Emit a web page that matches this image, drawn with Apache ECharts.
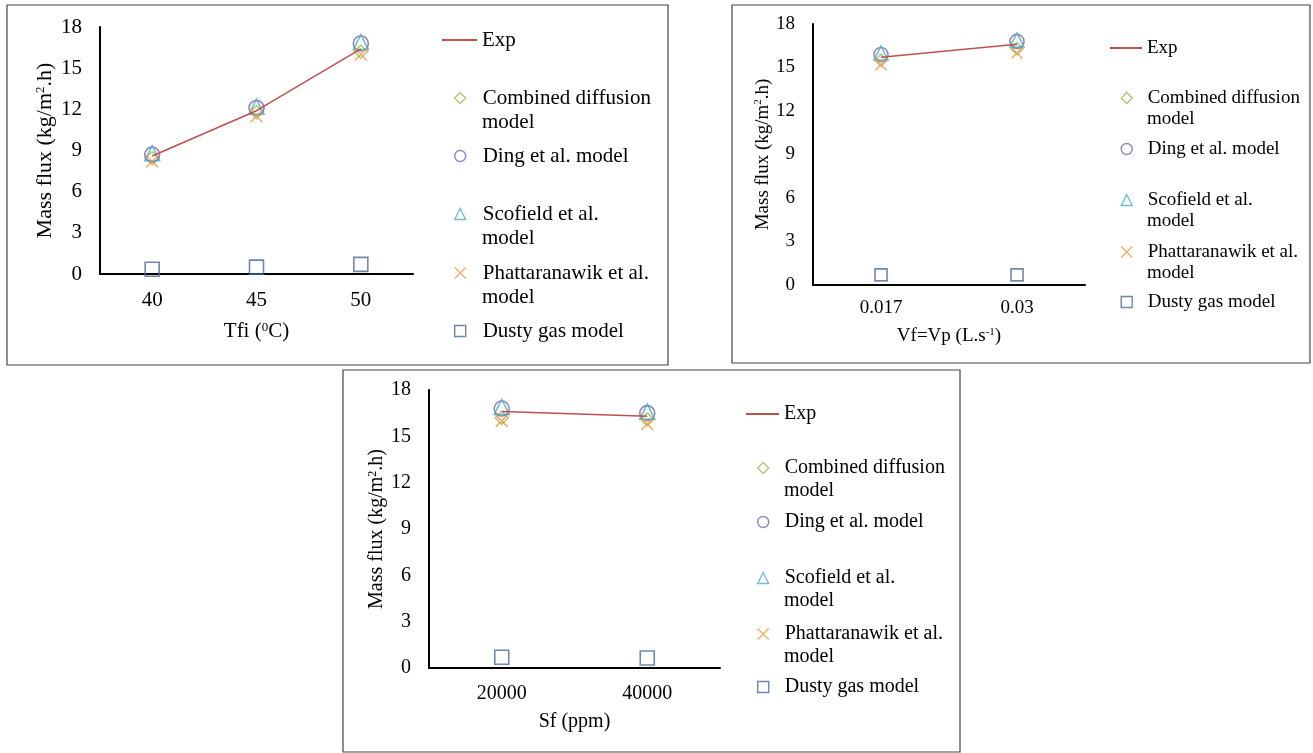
<!DOCTYPE html>
<html>
<head>
<meta charset="utf-8">
<script src="https://cdn.jsdelivr.net/npm/echarts@6/dist/echarts.min.js"></script>
<style>
  html, body { margin: 0; padding: 0; background: #fff; }
  #chart { width: 1313px; height: 753px; }
</style>
</head>
<body>
<div id="chart"></div>
<script>
// ---- data ----
const seriesNames = ['Exp', 'Combined diffusion model', 'Ding et al. model',
  'Scofield et al. model', 'Phattaranawik et al. model', 'Dusty gas model'];
const legendLines = {
  'Exp': ['Exp'],
  'Combined diffusion model': ['Combined diffusion', 'model'],
  'Ding et al. model': ['Ding et al. model'],
  'Scofield et al. model': ['Scofield et al.', 'model'],
  'Phattaranawik et al. model': ['Phattaranawik et al.', 'model'],
  'Dusty gas model': ['Dusty gas model']
};
const yTicks = [0, 3, 6, 9, 12, 15, 18];

// panel 1: Tfi
const tfiCats = ['40', '45', '50'];
const exp1 = [8.6, 11.9, 16.4];
const combined1 = [8.45, 11.8, 16.2];
const ding1 = [8.7, 12.1, 16.8];
const scofield1 = [8.8, 12.2, 16.9];
const phatt1 = [8.2, 11.5, 16.0];
const dusty1 = [0.35, 0.5, 0.7];

// panel 2: Vf=Vp
const vfCats = ['0.017', '0.03'];
const exp2 = [15.7, 16.6];
const combined2 = [15.5, 16.3];
const ding2 = [15.9, 16.8];
const scofield2 = [16.0, 16.9];
const phatt2 = [15.2, 16.0];
const dusty2 = [0.7, 0.7];

// panel 3: Sf
const sfCats = ['20000', '40000'];
const exp3 = [16.6, 16.3];
const combined3 = [16.2, 16.1];
const ding3 = [16.8, 16.5];
const scofield3 = [16.9, 16.6];
const phatt3 = [16.0, 15.8];
const dusty3 = [0.7, 0.65];

const FONT = '"Liberation Serif", "Times New Roman", serif';
const colors = ['#c0504d', '#9bbb59', '#8064a2', '#4bacc6', '#f79646', '#4a6a9a'];
const symbols = ['none', 'diamond', 'circle', 'triangle', 'path://M0,0L10,10M10,0L0,10', 'rect'];

const panels = [
  {
    cats: tfiCats, values: [exp1, combined1, ding1, scofield1, phatt1, dusty1],
    grid: { left: 100, top: 27, width: 313, height: 247 },
    font: 21, yFont: 22, xName: 'Tfi ({sup|0}C)', xGap: 47, yGap: 44, xMargin: 16,
    sizes: [0, 13, 15, 15, 12, 14],
    legendLeft: 442, legendW: 35,
    legendY: [40, 98, 156, 214, 273, 331], line2: 24,
    box: { x: 7, y: 5, width: 661, height: 360 }
  },
  {
    cats: vfCats, values: [exp2, combined2, ding2, scofield2, phatt2, dusty2],
    grid: { left: 813, top: 24, width: 272, height: 261 },
    font: 19, yFont: 19, xName: 'Vf=Vp (L.s{sup|-1})', xGap: 42, yGap: 39, xMargin: 14,
    sizes: [0, 12, 14, 14, 11, 12],
    legendLeft: 1110, legendW: 32,
    legendY: [48, 98, 149, 200, 252, 302], line2: 21,
    box: { x: 732, y: 5, width: 578, height: 358 }
  },
  {
    cats: sfCats, values: [exp3, combined3, ding3, scofield3, phatt3, dusty3],
    grid: { left: 429, top: 390, width: 291, height: 278 },
    font: 20, yFont: 20, xName: 'Sf (ppm)', xGap: 44, yGap: 42, xMargin: 16,
    sizes: [0, 13, 15, 15, 12, 14],
    legendLeft: 746, legendW: 33,
    legendY: [414, 468, 522, 578, 634, 687], line2: 23,
    box: { x: 343, y: 370, width: 617, height: 382 }
  }
];

const grids = [], xAxes = [], yAxes = [], series = [], legends = [], graphics = [];

panels.forEach((p, pi) => {
  grids.push(p.grid);
  const rich = { sup: { fontSize: Math.round(p.font * 0.6), fontFamily: FONT, color: '#000', verticalAlign: 'top' } };
  xAxes.push({
    type: 'category', gridIndex: pi, data: p.cats,
    axisLine: { lineStyle: { color: '#000', width: 2 } },
    axisTick: { show: false },
    axisLabel: { color: '#000', fontFamily: FONT, fontSize: p.font, margin: p.xMargin },
    name: p.xName, nameLocation: 'middle', nameGap: p.xGap,
    nameTextStyle: { color: '#000', fontFamily: FONT, fontSize: p.font, rich: rich }
  });
  yAxes.push({
    type: 'value', gridIndex: pi, min: 0, max: 18, interval: 3,
    axisLine: { show: true, lineStyle: { color: '#000', width: 2 } },
    axisTick: { show: false },
    splitLine: { show: false },
    axisLabel: { color: '#000', fontFamily: FONT, fontSize: p.font, margin: 18,
      formatter: v => yTicks.includes(v) ? String(v) : '' },
    name: 'Mass flux (kg/m{sup|2}.h)', nameLocation: 'middle', nameGap: p.yGap,
    nameTextStyle: { color: '#000', fontFamily: FONT, fontSize: p.yFont,
      rich: { sup: { fontSize: Math.round(p.yFont * 0.6), fontFamily: FONT, color: '#000', verticalAlign: 'top' } } }
  });

  seriesNames.forEach((name, si) => {
    if (si === 0) {
      series.push({
        name, type: 'line', xAxisIndex: pi, yAxisIndex: pi, data: p.values[si],
        symbol: 'none', z: 3,
        lineStyle: { color: colors[0], width: 1.5 },
        itemStyle: { color: colors[0] }
      });
    } else {
      series.push({
        name, type: 'scatter', xAxisIndex: pi, yAxisIndex: pi, data: p.values[si],
        symbol: symbols[si], symbolSize: p.sizes[si], z: 2,
        itemStyle: { color: 'rgba(255,255,255,0)', borderColor: colors[si], borderWidth: 1.6 }
      });
    }
  });

  seriesNames.forEach((name, si) => {
    const cy = p.legendY[si];
    const textX = p.legendLeft + p.legendW + 5;
    let item;
    if (si === 0) {
      item = {
        data: [{ name, icon: 'rect' }], left: p.legendLeft, top: cy - p.font / 2,
        itemWidth: p.legendW, itemHeight: 2,
        itemStyle: { color: colors[0] },
        textStyle: { color: '#000', fontFamily: FONT, fontSize: p.font }
      };
    } else {
      const s = 11;
      const m = p.legendLeft + p.legendW / 2;
      item = {
        data: [name], left: m - s / 2, top: cy - p.font / 2,
        itemWidth: s, itemHeight: s,
        itemStyle: { borderWidth: 1.4 },
        textStyle: { color: '#000', fontFamily: FONT, fontSize: p.font,
          padding: [0, 0, 0, textX - (m + s / 2 + 5)] }
      };
    }
    item.padding = 0;
    item.selectedMode = false;
    item.formatter = n => legendLines[n][0];
    legends.push(item);
    if (legendLines[name].length > 1) {
      graphics.push({
        type: 'text', left: textX, top: cy + p.line2 - p.font / 2,
        style: { text: legendLines[name][1], fill: '#000', font: p.font + 'px ' + FONT }
      });
    }
  });

  graphics.push({
    type: 'rect', shape: p.box, silent: true,
    style: { fill: 'none', stroke: '#444', lineWidth: 1.2 }
  });
});

const chart = echarts.init(document.getElementById('chart'));
chart.setOption({
  animation: false,
  backgroundColor: '#fff',
  grid: grids,
  xAxis: xAxes,
  yAxis: yAxes,
  legend: legends,
  series: series,
  graphic: graphics
});
</script>
</body>
</html>
